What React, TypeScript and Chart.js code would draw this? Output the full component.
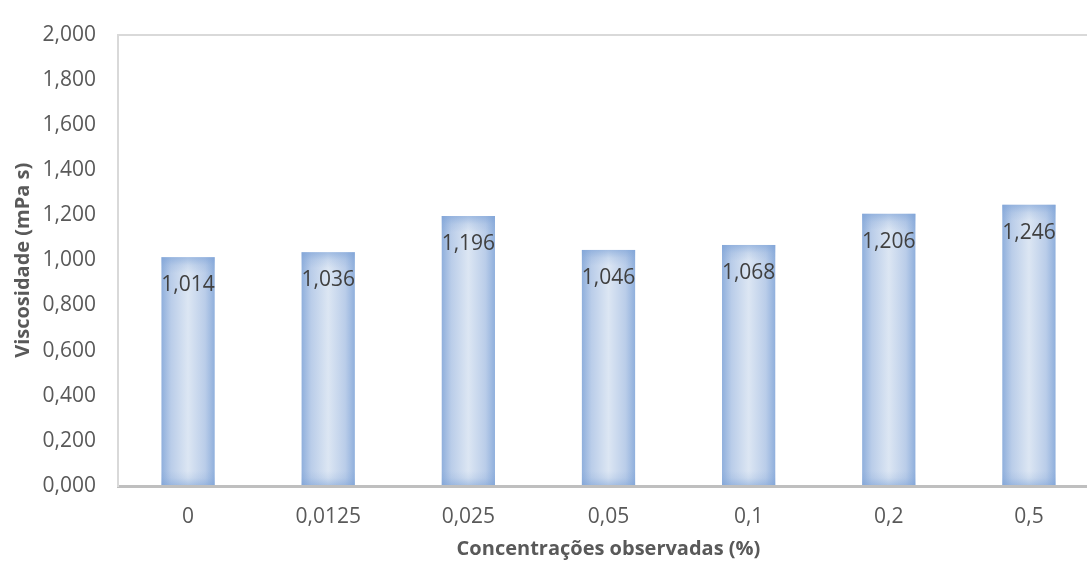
import React, { useEffect, useRef } from "react";
import { Chart, registerables } from "chart.js";

Chart.register(...registerables);

// Viscosity measured at each observed concentration
const categories = ["0", "0,0125", "0,025", "0,05", "0,1", "0,2", "0,5"];
const viscosity = [1.014, 1.036, 1.196, 1.046, 1.068, 1.206, 1.246];

// Value axis range
const yMin = 0;
const yMax = 2;
const yStep = 0.2;

const xTitle = "Concentrações observadas (%)";
const yTitle = "Viscosidade (mPa s)";

const BAR_PCT = 0.38;
const FONT = "'Open Sans', 'DejaVu Sans', sans-serif";
const TEXT = "#595959";
const TICK_SIZE = 21;

const fmt = (v: number) => v.toFixed(3).replace(".", ",");

// Darkens the top and bottom edges of each bar for a framed, shaded look
const barShade = {
  id: "barShade",
  afterDatasetDraw(chart: any, args: any) {
    const { ctx } = chart;
    const meta = args.meta;
    ctx.save();
    meta.data.forEach((el: any) => {
      const { x, y, base, width } = el.getProps(["x", "y", "base", "width"], true);
      if (![x, y, base, width].every((n) => Number.isFinite(n))) return;
      const left = x - width / 2;
      const top = Math.min(y, base);
      const bottom = Math.max(y, base);
      const gTop = ctx.createLinearGradient(0, top, 0, top + 16);
      gTop.addColorStop(0, "rgba(122,160,214,0.6)");
      gTop.addColorStop(0.5, "rgba(122,160,214,0.2)");
      gTop.addColorStop(1, "rgba(122,160,214,0)");
      ctx.fillStyle = gTop;
      ctx.fillRect(left, top, width, 16);
      const gBot = ctx.createLinearGradient(0, bottom, 0, bottom - 14);
      gBot.addColorStop(0, "rgba(122,160,214,0.5)");
      gBot.addColorStop(0.5, "rgba(122,160,214,0.15)");
      gBot.addColorStop(1, "rgba(122,160,214,0)");
      ctx.fillStyle = gBot;
      ctx.fillRect(left, bottom - 14, width, 14);
    });
    ctx.restore();
  },
};

// Writes each value inside its bar, just below the top edge
const valueLabels = {
  id: "valueLabels",
  afterDatasetsDraw(chart: any) {
    const { ctx } = chart;
    const meta = chart.getDatasetMeta(0);
    const values = chart.data.datasets[0].data as number[];
    ctx.save();
    ctx.font = `${TICK_SIZE}px ${FONT}`;
    ctx.fillStyle = "#404040";
    ctx.textAlign = "center";
    ctx.textBaseline = "middle";
    meta.data.forEach((el: any, i: number) => {
      const { x, y } = el.getProps(["x", "y"], true);
      ctx.fillText(fmt(values[i]), x, y + 28);
    });
    ctx.restore();
  },
};

export default function App() {
  const canvasRef = useRef<HTMLCanvasElement | null>(null);

  useEffect(() => {
    if (!canvasRef.current) return;
    const chart = new Chart(canvasRef.current, {
      type: "bar",
      data: {
        labels: categories,
        datasets: [
          {
            data: viscosity,
            barPercentage: BAR_PCT,
            categoryPercentage: 1,
            borderWidth: 0,
            backgroundColor: (c: any) => {
              const ch = c.chart;
              const xs = ch.scales?.x;
              if (!xs || c.dataIndex === undefined) return "#C6D6EE";
              const cw = (xs.right - xs.left) / categories.length;
              const half = (cw * BAR_PCT) / 2;
              const cx = xs.getPixelForValue(c.dataIndex);
              if (!Number.isFinite(cx) || !Number.isFinite(half) || half <= 0) return "#C6D6EE";
              const g = ch.ctx.createLinearGradient(cx - half, 0, cx + half, 0);
              g.addColorStop(0, "#8FAFDC");
              g.addColorStop(0.18, "#BACDE9");
              g.addColorStop(0.5, "#DCE6F3");
              g.addColorStop(0.82, "#BACDE9");
              g.addColorStop(1, "#8FAFDC");
              return g;
            },
          },
        ],
      },
      options: {
        responsive: false,
        animation: false,
        devicePixelRatio: 1,
        layout: { padding: { top: 26, right: 0, bottom: 0, left: 0 } },
        plugins: {
          legend: { display: false },
          tooltip: { enabled: false },
        },
        scales: {
          x: {
            z: 1,
            grid: { display: false, drawTicks: false },
            border: { display: true, color: "#BFBFBF", width: 3 },
            ticks: {
              color: TEXT,
              padding: 18,
              font: { family: FONT, size: TICK_SIZE },
              maxRotation: 0,
            },
            title: {
              display: true,
              text: xTitle,
              color: TEXT,
              font: { family: FONT, size: 20, weight: "bold", lineHeight: 1.2 },
              padding: { top: 0, bottom: 4 },
            },
            afterFit: (s: any) => {
              s.height = 79;
            },
          },
          y: {
            min: yMin,
            max: yMax,
            grid: {
              drawTicks: false,
              lineWidth: 2,
              color: (c: any) =>
                c.tick && Math.abs(c.tick.value - yMax) < 1e-9 ? "#D9D9D9" : "rgba(0,0,0,0)",
            },
            border: { display: true, color: "#D9D9D9", width: 2 },
            ticks: {
              stepSize: yStep,
              color: TEXT,
              padding: 22,
              font: { family: FONT, size: TICK_SIZE },
              callback: (v: any) => fmt(Number(v)),
            },
            title: {
              display: true,
              text: yTitle,
              color: TEXT,
              font: { family: FONT, size: 20, weight: "bold", lineHeight: 1.2 },
              padding: { top: 11, bottom: 0 },
            },
            afterFit: (s: any) => {
              s.width = 118;
            },
          },
        },
      },
      plugins: [barShade, valueLabels],
    });
    return () => chart.destroy();
  }, []);

  return (
    <div
      style={{
        position: "fixed",
        left: 0,
        top: 0,
        width: 1087,
        height: 565,
        overflow: "hidden",
        background: "#FFFFFF",
      }}
    >
      <canvas ref={canvasRef} width={1099} height={565} style={{ display: "block" }} />
    </div>
  );
}
